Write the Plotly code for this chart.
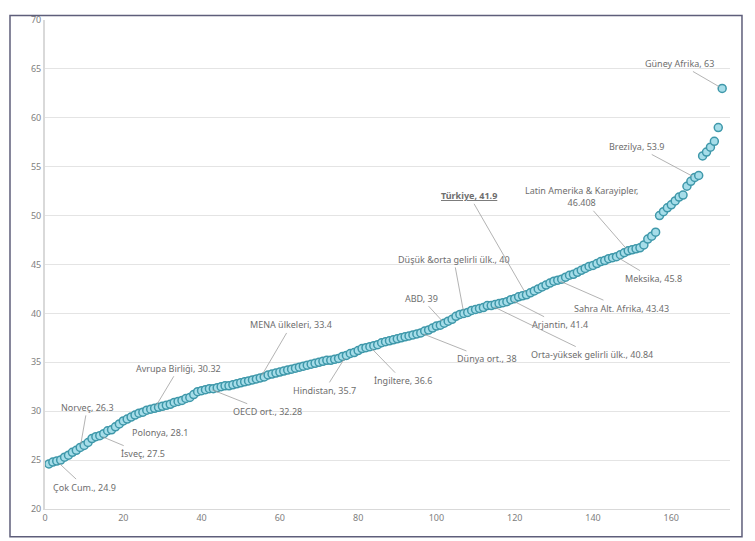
import plotly.graph_objects as go

# Gini values, sorted ascending (index 1..173)
values = [
    24.6, 24.8, 24.9, 25.0, 25.3, 25.5, 25.8, 26.0, 26.3, 26.5,
    26.8, 27.2, 27.4, 27.5, 27.7, 28.0, 28.1, 28.4, 28.7, 29.0,
    29.2, 29.4, 29.6, 29.8, 29.9, 30.1, 30.2, 30.3, 30.4, 30.5,
    30.6, 30.7, 30.9, 31.0, 31.1, 31.3, 31.4, 31.7, 32.0, 32.1,
    32.2, 32.3, 32.3, 32.4, 32.5, 32.6, 32.6, 32.7, 32.8, 32.9,
    33.0, 33.1, 33.2, 33.3, 33.4, 33.5, 33.7, 33.8, 33.9, 34.0,
    34.1, 34.2, 34.3, 34.4, 34.5, 34.6, 34.7, 34.8, 34.9, 35.0,
    35.1, 35.2, 35.2, 35.3, 35.4, 35.6, 35.7, 35.9, 36.0, 36.2,
    36.4, 36.5, 36.6, 36.7, 36.8, 37.0, 37.1, 37.2, 37.3, 37.4,
    37.5, 37.6, 37.7, 37.8, 37.9, 38.0, 38.2, 38.3, 38.5, 38.7,
    38.8, 39.0, 39.2, 39.4, 39.7, 39.9, 40.0, 40.1, 40.3, 40.4,
    40.5, 40.6, 40.8, 40.8, 40.9, 41.0, 41.1, 41.2, 41.4, 41.5,
    41.7, 41.8, 41.9, 42.1, 42.3, 42.5, 42.7, 42.9, 43.1, 43.3,
    43.4, 43.5, 43.7, 43.9, 44.0, 44.2, 44.4, 44.6, 44.8, 44.9,
    45.1, 45.3, 45.4, 45.6, 45.7, 45.8, 46.0, 46.2, 46.4, 46.5,
    46.6, 46.7, 47.0, 47.6, 47.9, 48.3, 50.0, 50.4, 50.8, 51.1,
    51.5, 51.9, 52.1, 53.0, 53.5, 53.9, 54.1, 56.1, 56.5, 57.0,
    57.6, 59.0, 63.0,
]
indices = list(range(1, len(values) + 1))

# Labelled points: (text, index in series)
label_texts = [
    "Çok Cum., 24.9", "Norveç, 26.3", "İsveç, 27.5", "Polonya, 28.1",
    "Avrupa Birliği, 30.32", "OECD ort., 32.28", "MENA ülkeleri, 33.4",
    "Hindistan, 35.7", "İngiltere, 36.6", "Dünya ort., 38", "ABD, 39",
    "Düşük &orta gelirli ülk., 40", "Orta-yüksek gelirli ülk., 40.84",
    "Arjantin, 41.4", "<b><u>Türkiye, 41.9</u></b>", "Sahra Alt. Afrika, 43.43",
    "Meksika, 45.8", "Latin Amerika & Karayipler,<br>46.408",
    "Brezilya, 53.9", "Güney Afrika, 63",
]
label_index = [3, 9, 14, 17, 28, 42, 55, 77, 83, 96, 102, 107, 114, 119, 123,
               131, 146, 149, 166, 173]
# pixel offsets of the label from its point
label_dx = [28, 7, 43, 48, 24, 58, 31, -22, 33, 66, -23, -10, 101, 49, -57,
            64, 37, -47, -58, -43]
label_dy = [26, -40, 18, 3, -40, 23, -53, 35, 34, 26, -25, -54, 49, 25, -99,
            28, 22, -54, -31, -25]

fig = go.Figure()
fig.add_trace(go.Scatter(
    x=indices, y=values, mode="markers",
    marker=dict(size=8, color="#a6dde9", line=dict(color="#3f98aa", width=1.5)),
    hoverinfo="x+y", showlegend=False,
))

font_lbl = dict(family="Noto Sans", size=9, color="#6e6e6e")
for t, i, dx, dy in zip(label_texts, label_index, label_dx, label_dy):
    xv = indices[i - 1]
    yv = values[i - 1]
    if dx == 48 and dy == 3:
        fig.add_annotation(x=xv, y=yv, text=t, showarrow=False,
                           xshift=dx, yshift=-dy, font=font_lbl)
    else:
        fig.add_annotation(x=xv, y=yv, text=t, showarrow=True, arrowhead=0,
                           arrowwidth=0.8, arrowcolor="#a0a0a0",
                           ax=dx, ay=dy, standoff=3, font=font_lbl)

# outer frame
fig.add_shape(type="rect", xref="paper", yref="paper",
              x0=-0.0511, x1=1.0175, y0=-0.0565, y1=1.009,
              line=dict(color="#5e5e7a", width=1.5))

fig.update_layout(
    width=755, height=541,
    margin=dict(l=37, r=33, t=5, b=40),
    paper_bgcolor="white", plot_bgcolor="white",
    font=dict(family="Noto Sans", size=9, color="#808080"),
    xaxis=dict(range=[0, 175], dtick=20, tick0=0, showgrid=False,
               zeroline=False, showline=True, linecolor="#d9d9d9", linewidth=1,
               ticks="", tickfont=dict(size=9, color="#808080")),
    yaxis=dict(range=[20, 70], dtick=5, tick0=20, showgrid=True,
               gridcolor="#e4e4e4", gridwidth=1, zeroline=False,
               showline=True, linecolor="#d9d9d9", linewidth=2,
               ticks="", ticklabeloverflow="allow",
               tickfont=dict(size=9, color="#808080")),
)

fig.write_html("out.html")
